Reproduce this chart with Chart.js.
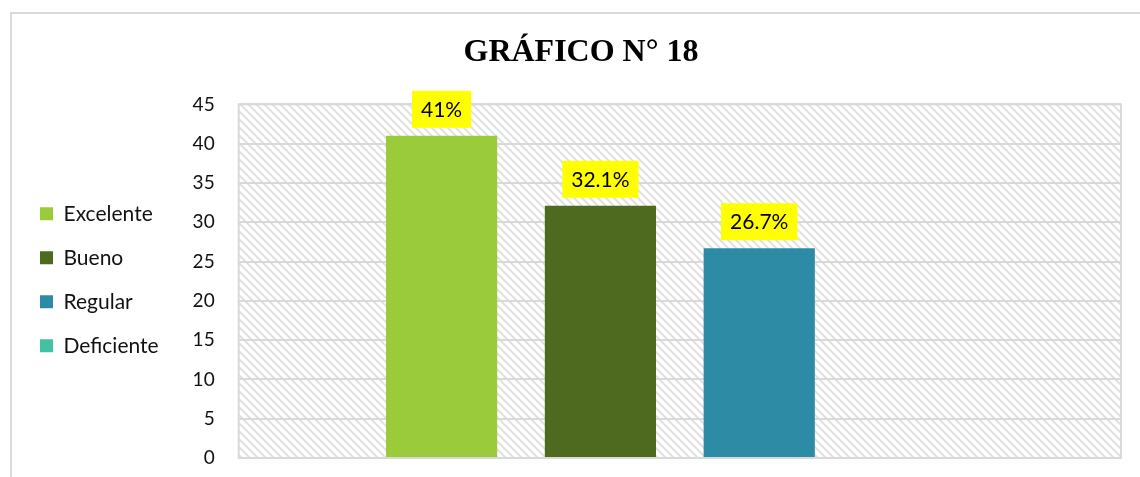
<!DOCTYPE html>
<html>
<head>
<meta charset="utf-8">
<script src="https://cdn.jsdelivr.net/npm/chart.js@4.4.1/dist/chart.umd.min.js"></script>
<style>
    body { margin: 0; background: #fff; overflow: hidden; }
    #frame {
        position: absolute; left: 10px; top: 12px;
        width: 1140px; height: 480px;
        border: 2px solid #d9d9d9;
    }
    #wrap { position: absolute; left: 0; top: 0; width: 1140px; height: 477px; }
</style>
</head>
<body>
<div id="frame"></div>
<div id="wrap"><canvas id="chart"></canvas></div>
<script>
const categories = [''];
const seriesNames = ['Excelente', 'Bueno', 'Regular', 'Deficiente'];
const seriesValues = [[41], [32.1], [26.7], [null]];
const seriesLabels = ['41%', '32.1%', '26.7%', ''];
const seriesColors = ['#9acb3a', '#4e6a1e', '#2e8ba6', '#43c1a3'];
const yTicks = [0, 5, 10, 15, 20, 25, 30, 35, 40, 45];

const bodyFont = 'Lato, "Noto Sans", sans-serif';

// fondo rayado del area de trazado
function makeHatch() {
    const c = document.createElement('canvas');
    c.width = 8; c.height = 8;
    const g = c.getContext('2d');
    g.fillStyle = '#ffffff';
    g.fillRect(0, 0, 8, 8);
    g.strokeStyle = '#e1e1e1';
    g.lineWidth = 2;
    g.beginPath();
    g.moveTo(-2, -2); g.lineTo(10, 10);
    g.moveTo(-10, -2); g.lineTo(2, 10);
    g.moveTo(6, -2); g.lineTo(18, 10);
    g.stroke();
    return c;
}

const hatchPlugin = {
    id: 'hatch',
    afterLayout(chart) {
        // el titulo del original esta algo corrido a la derecha
        if (chart.titleBlock) chart.titleBlock.left += 24;
    },
    beforeDraw(chart) {
        const { ctx, chartArea: a } = chart;
        ctx.save();
        ctx.fillStyle = ctx.createPattern(makeHatch(), 'repeat');
        ctx.fillRect(a.left, a.top, a.right - a.left, a.bottom - a.top);
        ctx.restore();
    },
    beforeDatasetsDraw(chart) {
        const { ctx, chartArea: a } = chart;
        ctx.save();
        ctx.strokeStyle = '#d9d9d9';
        ctx.lineWidth = 2;
        ctx.strokeRect(a.left, a.top, a.right - a.left, a.bottom - a.top);
        ctx.restore();
    }
};

// etiquetas amarillas sobre las barras
const labelPlugin = {
    id: 'yellowLabels',
    afterDatasetsDraw(chart) {
        const ctx = chart.ctx;
        ctx.save();
        ctx.font = '21px ' + bodyFont;
        ctx.textAlign = 'center';
        ctx.textBaseline = 'middle';
        chart.data.datasets.forEach((ds, i) => {
            const text = seriesLabels[i];
            if (!text) return;
            chart.getDatasetMeta(i).data.forEach(bar => {
                const w = ctx.measureText(text).width + 18;
                const h = 37;
                const bottom = bar.y - 8;
                ctx.fillStyle = '#ffff00';
                ctx.fillRect(bar.x - w / 2, bottom - h, w, h);
                ctx.fillStyle = '#000';
                ctx.fillText(text, bar.x, bottom - h / 2 + 1);
            });
        });
        ctx.restore();
    }
};

const datasets = seriesNames.map((name, i) => ({
    label: name,
    data: seriesValues[i],
    backgroundColor: seriesColors[i],
    borderWidth: 0
}));

new Chart(document.getElementById('chart'), {
    type: 'bar',
    data: { labels: categories, datasets: datasets },
    options: {
        responsive: true,
        maintainAspectRatio: false,
        animation: false,
        datasets: { bar: { categoryPercentage: 0.72, barPercentage: 0.7 } },
        layout: { padding: { left: 17, right: 19, top: 0, bottom: 19 } },
        scales: {
            x: { display: false },
            y: {
                min: 0,
                max: 45,
                afterBuildTicks: axis => { axis.ticks = yTicks.map(v => ({ value: v })); },
                afterFit: axis => { axis.width += 24; },
                ticks: { color: '#111', font: { size: 19, family: bodyFont }, padding: 0 },
                grid: { color: '#d9d9d9', lineWidth: 2, drawTicks: true, tickLength: 24, tickColor: 'rgba(0,0,0,0)' },
                border: { display: false }
            }
        },
        plugins: {
            title: {
                display: true,
                text: 'GRÁFICO N° 18',
                color: '#000',
                font: { size: 32, weight: 'bold', family: '"Liberation Serif", "DejaVu Serif", serif' },
                padding: { top: 34, bottom: 32 }
            },
            legend: {
                position: 'left',
                title: { display: true, text: ' ', font: { size: 18 }, padding: { top: 0, bottom: 80 } },
                labels: {
                    color: '#111',
                    font: { size: 21, family: bodyFont },
                    boxWidth: 13,
                    boxHeight: 13,
                    padding: 23
                }
            },
            tooltip: { enabled: false }
        }
    },
    plugins: [hatchPlugin, labelPlugin]
});
</script>
</body>
</html>
